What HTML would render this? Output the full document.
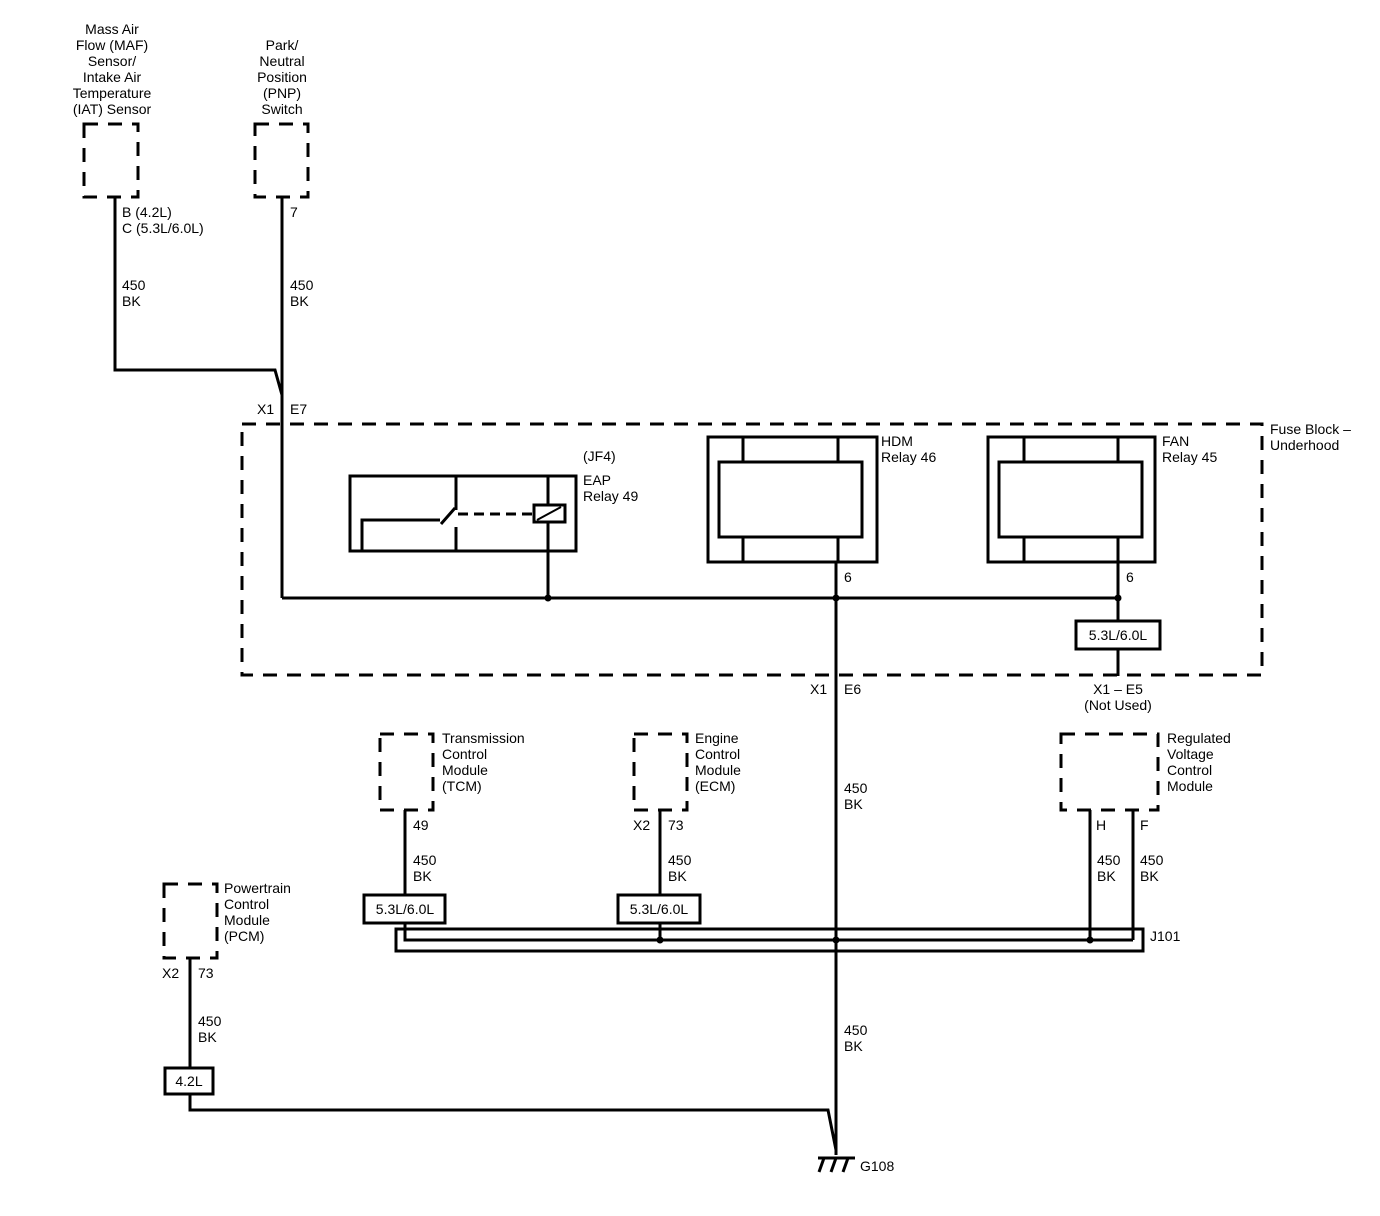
<!DOCTYPE html>
<html><head><meta charset="utf-8"><style>
html,body{margin:0;padding:0;background:#fff;}
svg{display:block;}
text{font-family:"Liberation Sans",Arial,sans-serif;font-size:14px;fill:#000;}
</style></head><body>
<svg width="1380" height="1216" viewBox="0 0 1380 1216" xmlns="http://www.w3.org/2000/svg">
<g fill="none" stroke="#000" stroke-width="3">
<!-- dashed component boxes -->
<g stroke-dasharray="14,10">
<rect x="84" y="124" width="54" height="73"/>
<rect x="255" y="124" width="53" height="73"/>
<rect x="242" y="424" width="1020" height="251"/>
<rect x="380" y="734" width="53" height="76"/>
<rect x="634" y="734" width="53" height="76"/>
<rect x="1061" y="734" width="97" height="76"/>
<rect x="164" y="884" width="53" height="74"/>
</g>
<!-- MAF/PNP wires -->
<polyline points="115,197 115,370 275,370 282,395"/>
<line x1="282" y1="197" x2="282" y2="598"/>
<!-- bus -->
<line x1="282" y1="598" x2="1118" y2="598"/>
<!-- EAP relay -->
<rect x="350" y="476" width="226" height="75"/>
<line x1="456" y1="476" x2="456" y2="510"/>
<line x1="456" y1="527" x2="456" y2="551"/>
<polyline points="362,551 362,520 440,520"/>
<line x1="441" y1="524" x2="455" y2="508"/>
<line x1="458" y1="514" x2="534" y2="514" stroke-dasharray="10,6"/>
<rect x="534" y="505" width="31" height="17"/>
<line x1="537" y1="520" x2="561" y2="507" stroke-width="2"/>
<line x1="548" y1="476" x2="548" y2="505"/>
<line x1="548" y1="522" x2="548" y2="598"/>
<!-- HDM relay -->
<rect x="708" y="437" width="169" height="125"/>
<rect x="719" y="462" width="143" height="75"/>
<line x1="743" y1="437" x2="743" y2="462"/><line x1="743" y1="537" x2="743" y2="562"/>
<line x1="838" y1="437" x2="838" y2="462"/><line x1="838" y1="537" x2="838" y2="562"/>
<line x1="836" y1="562" x2="836" y2="1155"/>
<!-- FAN relay -->
<rect x="988" y="437" width="167" height="125"/>
<rect x="999" y="462" width="143" height="75"/>
<line x1="1024" y1="437" x2="1024" y2="462"/><line x1="1024" y1="537" x2="1024" y2="562"/>
<line x1="1118" y1="437" x2="1118" y2="462"/><line x1="1118" y1="537" x2="1118" y2="562"/>
<line x1="1118" y1="562" x2="1118" y2="621"/>
<rect x="1076" y="621" width="84" height="28"/>
<line x1="1118" y1="649" x2="1118" y2="676"/>
<!-- TCM / ECM -->
<line x1="405" y1="810" x2="405" y2="895"/>
<rect x="364" y="895" width="81" height="28"/>
<line x1="660" y1="810" x2="660" y2="895"/>
<rect x="618" y="895" width="82" height="28"/>
<!-- RVC -->
<line x1="1090" y1="810" x2="1090" y2="940"/>
<line x1="1133" y1="810" x2="1133" y2="940"/>
<!-- J101 -->
<rect x="396" y="929" width="747" height="22"/>
<polyline points="405,923 405,940 1133,940"/>
<line x1="660" y1="923" x2="660" y2="940"/>
<!-- PCM -->
<line x1="190" y1="958" x2="190" y2="1068"/>
<rect x="165" y="1068" width="48" height="26"/>
<polyline points="190,1094 190,1110 828,1110 836,1150"/>
<!-- ground -->
<line x1="818" y1="1158" x2="855" y2="1158"/>
<line x1="824" y1="1158" x2="819" y2="1172"/>
<line x1="836" y1="1158" x2="831" y2="1172"/>
<line x1="848" y1="1158" x2="843" y2="1172"/>
</g>
<g fill="#000">
<circle cx="548" cy="598" r="3.5"/><circle cx="836" cy="598" r="3.5"/><circle cx="1118" cy="598" r="3.5"/>
<circle cx="660" cy="940" r="3.5"/><circle cx="836" cy="940" r="3.5"/><circle cx="1090" cy="940" r="3.5"/>
</g>
<!-- labels -->
<g text-anchor="middle">
<text x="112" y="34">Mass Air</text><text x="112" y="50">Flow (MAF)</text><text x="112" y="66">Sensor/</text><text x="112" y="82">Intake Air</text><text x="112" y="98">Temperature</text><text x="112" y="114">(IAT) Sensor</text>
<text x="282" y="50">Park/</text><text x="282" y="66">Neutral</text><text x="282" y="82">Position</text><text x="282" y="98">(PNP)</text><text x="282" y="114">Switch</text>
<text x="1118" y="640">5.3L/6.0L</text>
<text x="1118" y="694">X1 – E5</text><text x="1118" y="710">(Not Used)</text>
<text x="405" y="914">5.3L/6.0L</text>
<text x="659" y="914">5.3L/6.0L</text>
<text x="189" y="1086">4.2L</text>
</g>
<text x="122" y="217">B (4.2L)</text><text x="122" y="233">C (5.3L/6.0L)</text>
<text x="122" y="290">450</text><text x="122" y="306">BK</text>
<text x="290" y="217">7</text>
<text x="290" y="290">450</text><text x="290" y="306">BK</text>
<text x="257" y="414">X1</text><text x="290" y="414">E7</text>
<text x="583" y="461">(JF4)</text><text x="583" y="485">EAP</text><text x="583" y="501">Relay 49</text>
<text x="881" y="446">HDM</text><text x="881" y="462">Relay 46</text>
<text x="1162" y="446">FAN</text><text x="1162" y="462">Relay 45</text>
<text x="1270" y="434">Fuse Block –</text><text x="1270" y="450">Underhood</text>
<text x="844" y="582">6</text><text x="1126" y="582">6</text>
<text x="810" y="694">X1</text><text x="844" y="694">E6</text>
<text x="844" y="793">450</text><text x="844" y="809">BK</text>
<text x="442" y="743">Transmission</text><text x="442" y="759">Control</text><text x="442" y="775">Module</text><text x="442" y="791">(TCM)</text>
<text x="695" y="743">Engine</text><text x="695" y="759">Control</text><text x="695" y="775">Module</text><text x="695" y="791">(ECM)</text>
<text x="1167" y="743">Regulated</text><text x="1167" y="759">Voltage</text><text x="1167" y="775">Control</text><text x="1167" y="791">Module</text>
<text x="413" y="830">49</text><text x="413" y="865">450</text><text x="413" y="881">BK</text>
<text x="633" y="830">X2</text><text x="668" y="830">73</text><text x="668" y="865">450</text><text x="668" y="881">BK</text>
<text x="1096" y="830">H</text><text x="1140" y="830">F</text>
<text x="1097" y="865">450</text><text x="1097" y="881">BK</text>
<text x="1140" y="865">450</text><text x="1140" y="881">BK</text>
<text x="1150" y="941">J101</text>
<text x="224" y="893">Powertrain</text><text x="224" y="909">Control</text><text x="224" y="925">Module</text><text x="224" y="941">(PCM)</text>
<text x="162" y="978">X2</text><text x="198" y="978">73</text>
<text x="198" y="1026">450</text><text x="198" y="1042">BK</text>
<text x="844" y="1035">450</text><text x="844" y="1051">BK</text>
<text x="860" y="1171">G108</text>
</svg>
</body></html>
